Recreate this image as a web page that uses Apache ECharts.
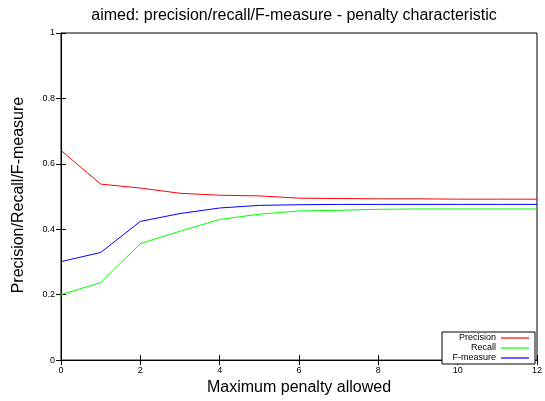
<!DOCTYPE html>
<html><head><meta charset="utf-8">
<script src="https://cdn.jsdelivr.net/npm/echarts@6/dist/echarts.min.js"></script>
<style>html,body{margin:0;padding:0;background:#fff}#c{width:545px;height:401px}</style>
</head><body><div id="c"></div>
<script>
const penalty = [0,1,2,3,4,5,6,7,8,9,10,11,12];
const precision = [0.641,0.538,0.526,0.510,0.504,0.502,0.495,0.494,0.493,0.493,0.492,0.492,0.492];
const recall = [0.200,0.237,0.356,0.394,0.430,0.446,0.456,0.458,0.461,0.462,0.462,0.462,0.462];
const fmeasure = [0.301,0.329,0.424,0.448,0.465,0.473,0.475,0.476,0.476,0.476,0.476,0.476,0.476];
const seriesNames = ['Precision','Recall','F-measure'];
const colors = ['#ff0000','#00ff00','#0000ff'];

const font = 'Liberation Sans, Arial, sans-serif';
const chart = echarts.init(document.getElementById('c'));
const mk = (arr) => penalty.map((p,i)=>[p,arr[i]]);
const tickCommon = {show:true, inside:true, length:5, lineStyle:{color:'#000'}};
chart.setOption({
  animation:false,
  title:{text:'aimed: precision/recall/F-measure - penalty characteristic', left:289, top:3, textAlign:'center',
    textStyle:{fontFamily:font, fontSize:16, fontWeight:'normal', color:'#000'}},
  grid:{left:61, right:5, top:33, bottom:34, show:true, borderColor:'#000', borderWidth:1, backgroundColor:'transparent'},
  legend:{orient:'vertical', right:10, bottom:37, align:'right', icon:'rect', itemWidth:28, itemHeight:1.2, itemGap:0,
    borderColor:'#000', borderWidth:1, padding:[1,6,1,6], backgroundColor:'#fff',
    textStyle:{fontFamily:font, fontSize:9, color:'#000', width:48, lineHeight:10, align:'right'},
    data:seriesNames},
  xAxis:[
    {type:'value', min:0, max:12, interval:2, name:'Maximum penalty allowed', nameLocation:'middle', nameGap:19,
     nameTextStyle:{fontFamily:font, fontSize:16, color:'#000'},
     axisLine:{show:true, onZero:false, lineStyle:{color:'#000'}}, axisTick:tickCommon, splitLine:{show:false},
     axisLabel:{fontFamily:font, fontSize:9, color:'#000', margin:6}},
    {type:'value', position:'top', min:0, max:12, interval:2, axisLine:{show:true, lineStyle:{color:'#000'}},
     axisTick:tickCommon, axisLabel:{show:false}, splitLine:{show:false}}
  ],
  yAxis:[
    {type:'value', min:0, max:1, interval:0.2, name:'Precision/Recall/F-measure', nameLocation:'middle', nameGap:34,
     nameTextStyle:{fontFamily:font, fontSize:16, color:'#000', padding:[0,0,0,3]},
     axisLine:{show:true, onZero:false, lineStyle:{color:'#000'}}, axisTick:tickCommon, splitLine:{show:false},
     axisLabel:{fontFamily:font, fontSize:9, color:'#000', margin:6}},
    {type:'value', position:'right', min:0, max:1, interval:0.2, axisLine:{show:true, lineStyle:{color:'#000'}},
     axisTick:tickCommon, axisLabel:{show:false}, splitLine:{show:false}}
  ],
  series:[precision, recall, fmeasure].map((arr,i)=>({
    name:seriesNames[i], type:'line', data:mk(arr), showSymbol:false, symbol:'none',
    lineStyle:{color:colors[i], width:1}, itemStyle:{color:colors[i]}
  }))
});
</script></body></html>
